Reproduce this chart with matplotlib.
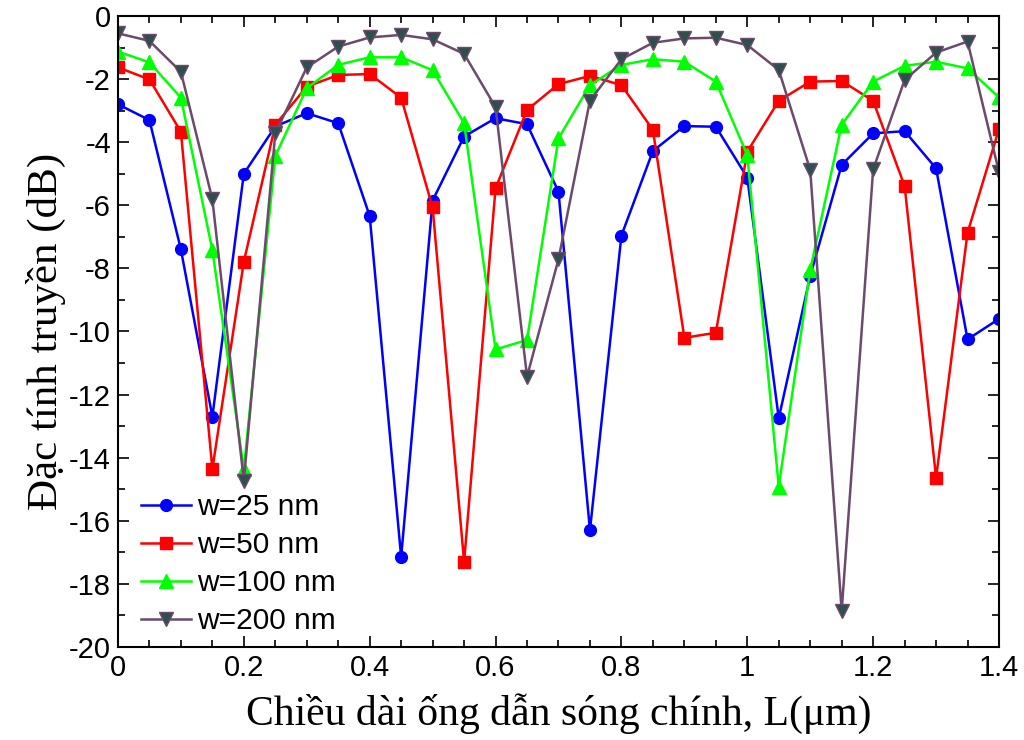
import numpy as np
import matplotlib
matplotlib.use('Agg')
import matplotlib.pyplot as plt
from matplotlib.ticker import MultipleLocator

# chieu dai L (um), 0 -> 1.4 buoc 0.05
L = [0.0, 0.05, 0.1, 0.15, 0.2, 0.25, 0.3, 0.35, 0.4, 0.45,
     0.5, 0.55, 0.6, 0.65, 0.7, 0.75, 0.8, 0.85, 0.9, 0.95,
     1.0, 1.05, 1.1, 1.15, 1.2, 1.25, 1.3, 1.35, 1.4]

w25 = [-2.80, -3.30, -7.40, -12.70, -5.00, -3.50, -3.08, -3.40, -6.34, -17.15,
       -5.85, -3.82, -3.24, -3.43, -5.57, -16.30, -6.96, -4.28, -3.49, -3.51,
       -5.12, -12.75, -8.24, -4.72, -3.72, -3.65, -4.83, -10.25, -9.60]

w50 = [-1.63, -2.01, -3.67, -14.36, -7.79, -3.45, -2.24, -1.87, -1.84, -2.59,
       -6.07, -17.30, -5.46, -2.98, -2.16, -1.90, -2.19, -3.61, -10.20, -10.04,
       -4.30, -2.69, -2.08, -2.06, -2.69, -5.39, -14.64, -6.87, -3.58]

w100 = [-1.13, -1.47, -2.59, -7.42, -14.37, -4.44, -2.29, -1.55, -1.31, -1.31,
        -1.72, -3.40, -10.57, -10.27, -3.88, -2.19, -1.55, -1.37, -1.45, -2.08,
        -4.41, -14.92, -8.05, -3.45, -2.08, -1.58, -1.45, -1.66, -2.58]

w200 = [-0.55, -0.79, -1.77, -5.81, -14.73, -3.72, -1.63, -0.97, -0.68, -0.60,
        -0.74, -1.20, -2.89, -11.43, -7.71, -2.68, -1.37, -0.85, -0.71, -0.69,
        -0.92, -1.71, -4.88, -18.86, -4.86, -2.03, -1.16, -0.81, -4.95]

fig = plt.figure(figsize=(10.24, 7.4), dpi=100)
ax = fig.add_axes([0.1152, 0.1257, 0.8604, 0.8527])

ax.plot(L, w25, '-o', color='#0000FF', lw=1.8, ms=8.5, label='w=25 nm')
ax.plot(L, w50, '-s', color='#FF0000', lw=1.8, ms=9, label='w=50 nm')
ax.plot(L, w100, '-^', color='#00FF00', lw=1.8, ms=10, label='w=100 nm')
ax.plot(L, w200, '-v', color='#6B4A6B', mfc='#2F4F4F', mec='#6B4A6B', lw=1.8, ms=10,
        label='w=200 nm')

ax.set_xlim(0, 1.4)
ax.set_ylim(-20, 0)
ax.xaxis.set_minor_locator(MultipleLocator(0.05))
ax.yaxis.set_minor_locator(MultipleLocator(1))
ax.set_xticks([0, 0.2, 0.4, 0.6, 0.8, 1.0, 1.2, 1.4])
ax.set_xticklabels(['0', '0.2', '0.4', '0.6', '0.8', '1', '1.2', '1.4'])
ax.set_yticks(range(-20, 1, 2))
ax.set_yticklabels([str(v) for v in range(-20, 1, 2)])
ax.tick_params(which='both', direction='in', top=True, right=True, width=1.2)
ax.tick_params(which='major', length=8, labelsize=21, pad=5)
ax.tick_params(which='minor', length=5)
for lab in ax.get_xticklabels() + ax.get_yticklabels():
    lab.set_family('Liberation Sans')
for s in ax.spines.values():
    s.set_linewidth(1.5)

ax.set_xlabel('Chiều dài ống dẫn sóng chính, L(μm)', family='Liberation Serif', fontsize=30,
              labelpad=8)
ax.set_ylabel('Đặc tính truyền (dB)', family='Liberation Serif', fontsize=31, labelpad=2)

leg = ax.legend(loc='lower left', frameon=False, prop={'family': 'Liberation Sans', 'size': 21.5},
                handlelength=1.65, handletextpad=0.2, labelspacing=0.33,
                borderaxespad=0.0, bbox_to_anchor=(0.013, 0.0))

fig.savefig('out.png', dpi=100)
